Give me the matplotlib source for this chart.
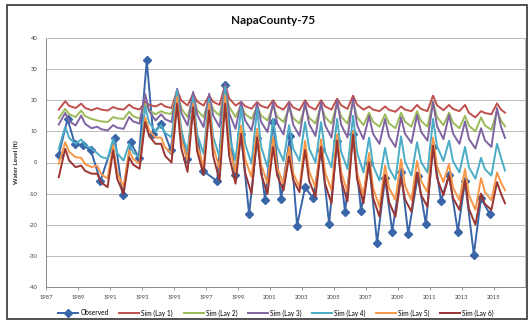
import matplotlib
matplotlib.use("Agg")
import matplotlib.pyplot as plt
from matplotlib.patches import Rectangle

plt.rcParams['font.family'] = ['Lato', 'DejaVu Sans']

title = "NapaCounty-75"
y_label = "Water Level (ft)"
x_ticks = [1987, 1989, 1991, 1993, 1995, 1997, 1999, 2001, 2003, 2005, 2007, 2009, 2011, 2013, 2015]
y_ticks = [-40, -30, -20, -10, 0, 10, 20, 30, 40]

# Simulated series dates: start, then spring peak / early-summer / autumn low for 1988-2015
sim_dates = [1987.8]
for yr in range(1988, 2016):
    sim_dates += [yr + 0.2, yr + 0.45, yr + 0.85 if yr < 2015 else yr + 0.7]

sim_lay1 = [17.0,
    19.7, 18.2, 17.5,  18.9, 17.5, 16.8,  17.5, 17.0, 16.7,  17.8, 17.3, 17.0,  18.6, 17.6, 17.0,
    19.5, 18.5, 18.0,  18.9, 18.0, 17.5,  23.2, 20.0, 18.3,  22.1, 19.6, 18.3,  21.5, 19.5, 18.5,
    25.0, 20.6, 18.3,  19.5, 18.1, 17.3,  19.4, 18.2, 17.5,  20.0, 18.0, 17.0,  19.5, 17.7, 16.8,
    20.0, 18.0, 17.0,  20.0, 18.0, 17.0,  20.5, 18.4, 17.2,  21.5, 18.6, 17.0,  18.0, 17.0, 16.5,
    18.0, 16.9, 16.3,  18.0, 17.0, 16.5,  18.5, 17.2, 16.5,  21.5, 18.4, 16.8,  18.5, 17.2, 16.5,
    18.5, 15.9, 14.5,  16.5, 15.9, 15.5,  19.0, 17.0, 16.0]
sim_lay2 = [14.2,
    17.2, 15.5, 14.6,  16.7, 14.9, 14.0,  13.5, 13.2, 13.0,  14.6, 14.2, 14.0,  16.3, 14.9, 14.1,
    18.8, 16.7, 15.5,  16.5, 15.9, 15.6,  22.7, 17.4, 14.6,  21.0, 16.8, 14.6,  20.5, 17.0, 15.1,
    24.0, 17.9, 14.6,  18.5, 15.6, 14.0,  18.0, 15.1, 13.5,  18.0, 14.8, 13.0,  17.5, 14.3, 12.5,
    18.0, 14.4, 12.5,  18.5, 14.6, 12.5,  19.0, 14.8, 12.5,  19.5, 14.6, 12.0,  16.0, 13.1, 11.5,
    15.5, 12.6, 11.0,  16.0, 13.1, 11.5,  16.5, 13.3, 11.5,  19.5, 14.6, 12.0,  16.0, 12.8, 11.0,
    15.0, 11.8, 10.0,  14.5, 11.9, 10.5,  16.5, 13.5, 11.6]
sim_lay3 = [12.2,
    15.9, 13.3, 11.9,  15.1, 12.4, 11.0,  11.5, 10.7, 10.3,  12.0, 11.2, 10.8,  14.6, 13.2, 12.5,
    22.0, 16.5, 13.5,  15.5, 13.9, 13.0,  23.7, 16.0, 11.9,  22.7, 15.4, 11.4,  22.1, 15.1, 11.4,
    25.3, 15.9, 10.8,  19.4, 13.5, 10.3,  18.9, 13.0, 9.8,  19.5, 12.7, 9.0,  19.0, 12.2, 8.5,
    19.5, 12.4, 8.5,  19.5, 12.0, 8.0,  20.0, 12.2, 8.0,  20.5, 12.0, 7.5,  15.0, 9.2, 6.0,
    14.0, 8.2, 5.0,  14.5, 9.2, 6.3,  15.3, 9.9, 7.0,  19.5, 11.7, 7.5,  15.3, 9.3, 6.0,
    13.2, 7.5, 4.5,  11.0, 7.1, 5.0,  17.5, 11.5, 7.9]
sim_lay4 = [4.4,
    11.4, 7.9, 6.0,  7.4, 5.5, 4.5,  3.0, 1.8, 1.2,  7.6, 3.0, 0.6,  6.0, 3.2, 1.7,
    18.0, 12.8, 10.0,  12.0, 9.5, 8.1,  23.2, 10.3, 3.3,  21.0, 9.2, 2.8,  20.5, 8.3, 1.7,
    24.3, 8.9, 0.6,  17.8, 6.0, -0.4,  17.3, 5.1, -1.5,  14.0, 5.2, 0.5,  12.0, 4.5, 0.5,
    13.0, 4.6, 0.0,  13.0, 3.5, -1.6,  14.0, 3.5, -2.1,  15.0, 3.2, -3.2,  8.0, -1.0, -5.8,
    4.7, -1.9, -5.5,  8.4, 0.2, -4.2,  6.5, 0.2, -3.2,  14.0, 5.2, 0.5,  7.0, 0.4, -3.2,
    5.0, -1.6, -5.2,  1.5, -2.2, -4.2,  6.0, 1.5, -2.6]
sim_lay5 = [-0.4,
    6.5, 3.4, 1.7,  1.5, -0.5, -1.5,  -1.0, -3.7, -5.2,  5.5, -3.2, -7.9,  3.9, 1.1, -0.4,
    14.5, 10.3, 8.0,  8.0, 4.8, 3.0,  21.0, 7.7, 0.6,  18.9, 5.6, -1.5,  18.9, 5.3, -2.0,
    21.5, 5.5, -3.1,  11.9, 1.1, -4.7,  10.8, -0.6, -6.8,  8.0, -1.6, -6.8,  5.0, -3.4, -7.9,
    7.0, -2.8, -8.0,  7.5, -3.2, -8.9,  9.0, -3.0, -9.5,  10.0, -3.3, -10.5,  3.0, -8.2, -14.2,
    -1.0, -8.2, -12.0,  1.0, -7.5, -12.1,  0.5, -6.0, -9.5,  8.0, -1.3, -6.3,  -0.5, -8.1, -12.1,
    -2.1, -10.6, -15.2,  -5.0, -9.6, -12.1,  -3.2, -6.5, -8.9]
sim_lay6 = [-4.7,
    4.4, 0.6, -1.5,  -1.0, -2.7, -3.6,  -3.6, -6.4, -7.9,  3.9, -5.2, -10.1,  1.7, -0.7, -2.0,
    13.0, 8.5, 6.0,  6.0, 2.1, 0.0,  18.9, 4.7, -3.0,  17.8, 3.6, -4.0,  16.7, 2.1, -5.8,
    18.9, 2.2, -6.8,  9.2, -3.3, -10.0,  8.1, -3.7, -10.1,  5.0, -4.1, -9.0,  2.0, -5.5, -9.5,
    4.0, -5.8, -11.0,  5.0, -6.8, -13.1,  7.0, -5.7, -12.5,  9.0, -5.4, -13.1,  0.0, -11.3, -17.4,
    -4.0, -12.7, -17.4,  -4.7, -11.9, -15.8,  -3.2, -10.4, -14.2,  5.3, -5.0, -10.5,  -4.2, -11.4, -15.2,
    -5.8, -15.0, -20.0,  -10.0, -13.4, -15.2,  -6.3, -10.0, -13.1]

obs_dates = [1987.8, 1988.35, 1988.8, 1989.3, 1989.8, 1990.4, 1991.3, 1991.8, 1992.3, 1992.8,
             1993.3, 1993.7, 1994.2, 1994.8, 1995.2, 1995.8, 1996.2, 1996.8, 1997.7, 1998.2,
             1998.8, 1999.2, 1999.7, 2000.2, 2000.7, 2001.2, 2001.7, 2002.25, 2002.7, 2003.2,
             2003.7, 2004.2, 2004.7, 2005.2, 2005.7, 2006.2, 2006.7, 2007.2, 2007.7, 2008.2,
             2008.65, 2009.2, 2009.65, 2010.25, 2010.75, 2011.2, 2011.7, 2012.2, 2012.75, 2013.2,
             2013.75, 2014.2, 2014.75]
observed = [2.5, 14.0, 6.0, 5.5, 4.0, -6.0, 8.0, -10.3, 6.5, 1.5,
            32.8, 9.2, 12.5, 4.0, 18.0, 1.0, 17.0, -2.6, -6.0, 25.0,
            -4.0, 9.0, -16.7, 8.0, -12.2, 13.0, -11.7, 8.5, -20.3, -7.9,
            -11.5, 4.0, -19.6, 7.0, -16.0, 9.0, -15.5, 0.0, -25.8, -5.0,
            -22.2, -3.0, -23.0, -4.2, -19.8, 5.0, -12.3, -4.0, -22.2, -6.0,
            -29.6, -11.5, -16.6]

series = [
    ("Sim (Lay 1)", sim_lay1, "#C0504D"),
    ("Sim (Lay 2)", sim_lay2, "#9BBB59"),
    ("Sim (Lay 3)", sim_lay3, "#8064A2"),
    ("Sim (Lay 4)", sim_lay4, "#4BACC6"),
    ("Sim (Lay 5)", sim_lay5, "#F79646"),
    ("Sim (Lay 6)", sim_lay6, "#9A3532"),
]

W, H = 529, 321
fig = plt.figure(figsize=(W / 100, H / 100), dpi=100)
fig.patch.set_facecolor("white")
ax = fig.add_axes([46 / W, 1 - 287 / H, (525 - 46) / W, (287 - 38) / H])

ax.plot(obs_dates, observed, color="#3A66A8", lw=1.4, marker="D", ms=3.6,
        label="Observed", zorder=3)
for name, vals, col in series:
    ax.plot(sim_dates, vals, color=col, lw=1.4, label=name, zorder=4)

ax.set_xlim(1987, 2016.95)
ax.set_ylim(-40, 40)
ax.set_yticks(y_ticks)
ax.set_yticklabels([str(v) for v in y_ticks])
ax.set_xticks(x_ticks)
ax.set_xticklabels([str(v) for v in x_ticks])
ax.tick_params(axis="y", length=0, labelsize=4.2, labelcolor="#404040", pad=6)
ax.tick_params(axis="x", length=2.5, width=0.6, color="#888888", labelsize=4.2,
               labelcolor="#404040", pad=3)
ax.grid(axis="y", color="#BBBBBB", lw=0.7)
ax.set_axisbelow(True)
for s in ["top", "right"]:
    ax.spines[s].set_color("#BBBBBB")
    ax.spines[s].set_linewidth(0.7)
for s in ["left", "bottom"]:
    ax.spines[s].set_color("#888888")
    ax.spines[s].set_linewidth(0.7)

ax.set_ylabel(y_label, fontsize=4.5, fontweight="bold", color="#222222", labelpad=7)

fig.text(273.5 / W, 1 - 21 / H, title, ha="center", va="center",
         fontsize=8.5, fontweight="bold", color="#111111")

fig.legend(loc="center", bbox_to_anchor=(276 / W, 1 - 313 / H), ncol=7, frameon=False,
           fontsize=4.8, handlelength=3.0, handletextpad=0.3, columnspacing=1.6,
           borderaxespad=0)

fig.patches.append(Rectangle((7 / W, 2 / H), (527 - 7) / W, (316 - 2) / H,
                             transform=fig.transFigure, fill=False,
                             ec="#333333", lw=1.2))

fig.savefig("out.png", dpi=100)
